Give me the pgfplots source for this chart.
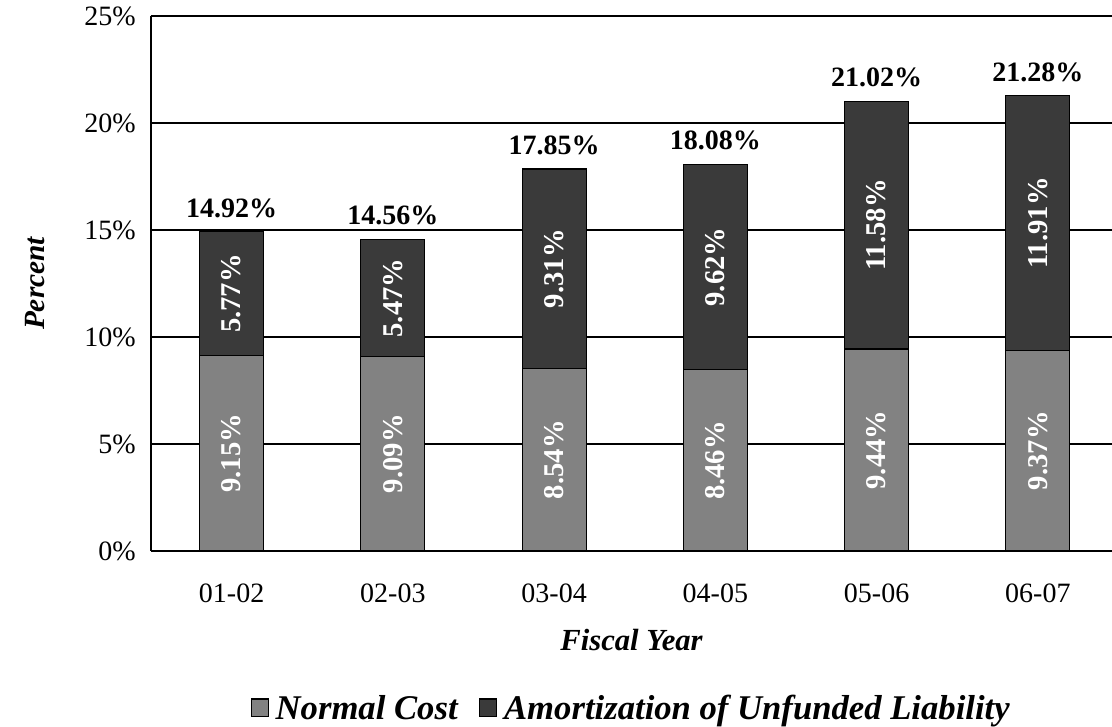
\documentclass[border=0pt]{standalone}
\usepackage{pgfplots}
\pgfplotsset{compat=1.18}
\usepackage{pgfplotstable}
\usepackage{fontspec}
\setmainfont{Liberation Serif}

\definecolor{nccol}{RGB}{130,130,130}
\definecolor{amcol}{RGB}{58,58,58}

% x  normal cost  amortization  total
\pgfplotstableread{
x nc am tot
0 9.15 5.77 14.92
1 9.09 5.47 14.56
2 8.54 9.31 17.85
3 8.46 9.62 18.08
4 9.44 11.58 21.02
5 9.37 11.91 21.28
}\ratedata

\pgfplotsset{
  frame/.style={at={(0,0)}, anchor=south west,
    scale only axis, width=720.75pt, height=401.25pt,
    xmin=-0.5, xmax=5.46, ymin=0, ymax=25,
    /pgf/number format/assume math mode=true},
  pct/.style={nodes near coords={\pgfmathprintnumber[fixed,fixed zerofill,precision=2,assume math mode=true]{\pgfplotspointmeta}\%}},
}

\begin{document}
\begin{tikzpicture}
\begin{axis}[
  frame,
  ybar stacked, bar width=48pt,
  axis x line*=box, axis y line*=left,
  axis line style={line width=1.3pt},
  ymajorgrids, grid style={black, line width=1pt},
  ytick={0,5,...,25},
  xtick={0,...,5},
  xticklabels={01-02,02-03,03-04,04-05,05-06,06-07},
  major tick length=0pt,
  yticklabel={\pgfmathprintnumber{\tick}\%},
  ticklabel style={font=\fontsize{21}{25}\selectfont},
  yticklabel style={xshift=-8pt},
  xticklabel style={yshift=-21pt},
  xlabel={Fiscal Year},
  ylabel={Percent},
  xlabel style={at={([yshift=-67pt]axis description cs:0.5,0)}, anchor=center,
    font=\fontsize{23}{27}\selectfont\bfseries\itshape},
  ylabel style={at={([xshift=-87pt]axis description cs:0,0.5)}, anchor=center,
    font=\fontsize{22}{26}\selectfont\bfseries\itshape},
  legend style={at={([yshift=-118pt]axis description cs:0.5,0)}, anchor=center,
    draw=none, legend columns=2,
    font=\fontsize{26}{30}\selectfont\bfseries\itshape,
    /tikz/every even column/.append style={column sep=14pt}},
  legend image code/.code={\draw[#1, draw=black, line width=0.8pt] (0pt,-6pt) rectangle (13pt,7pt);},
]
\addplot[fill=nccol, draw=black, line width=0.8pt] table[x=x, y=nc] {\ratedata};
\addplot[fill=amcol, draw=black, line width=0.8pt] table[x=x, y=am] {\ratedata};
\legend{\hspace{3pt}Normal Cost, \hspace{3pt}Amortization of Unfunded Liability}
\end{axis}

% labels: segment values centred in each segment, totals above the bars
\begin{axis}[frame, hide axis]
\addplot[draw=none, mark=none, point meta=\thisrow{nc}, pct,
  every node near coord/.style={rotate=90, anchor=center, text=white,
    font=\fontsize{21.5}{25}\selectfont\bfseries}]
  table[x=x, y expr=\thisrow{nc}/2] {\ratedata};
\addplot[draw=none, mark=none, point meta=\thisrow{am}, pct,
  every node near coord/.style={rotate=90, anchor=center, text=white,
    font=\fontsize{21.5}{25}\selectfont\bfseries}]
  table[x=x, y expr=\thisrow{nc}+\thisrow{am}/2] {\ratedata};
\addplot[draw=none, mark=none, point meta=\thisrow{tot}, pct,
  every node near coord/.style={anchor=south, yshift=7pt, text=black,
    font=\fontsize{21}{25}\selectfont\bfseries}]
  table[x=x, y=tot] {\ratedata};
\end{axis}
\pgfresetboundingbox
\path[use as bounding box] (-113.25pt,-132pt) rectangle (720.75pt,413.25pt);
\end{tikzpicture}
\end{document}
